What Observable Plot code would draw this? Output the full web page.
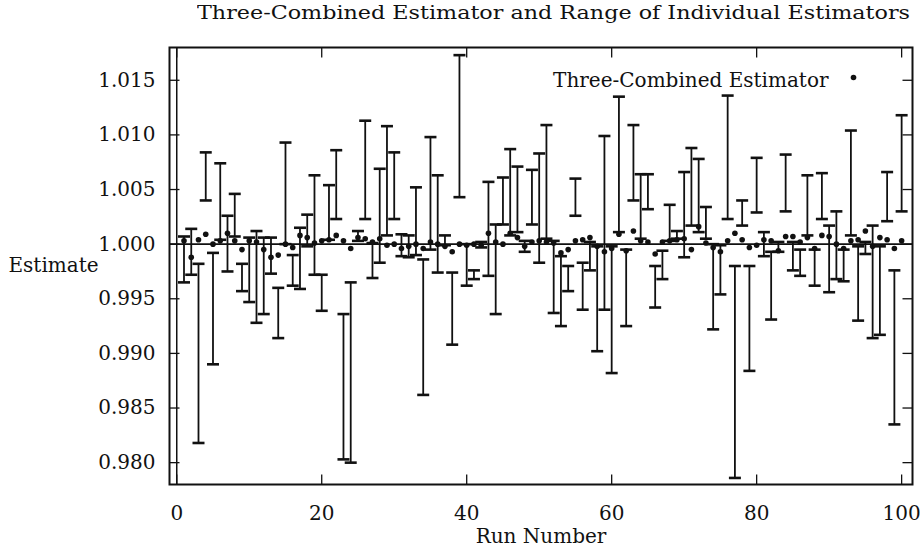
<!DOCTYPE html>
<html>
<head>
<meta charset="utf-8">
<script src="https://cdn.jsdelivr.net/npm/d3@7"></script>
<script src="https://cdn.jsdelivr.net/npm/@observablehq/plot@0.6"></script>
<style>
  html, body { margin: 0; padding: 0; background: #fff; }
  #wrap { width: 920px; height: 550px; position: relative; overflow: hidden; }
  #title {
    height: 30px; line-height: 24px; white-space: nowrap;
    font-family: "DejaVu Serif", serif; font-size: 19px; color: #111;
    padding-left: 197px;
  }
  #titleText { display: inline-block; transform-origin: 0 50%; }
  svg { display: block; }
</style>
</head>
<body>
<div id="wrap">
  <div id="title"><span id="titleText">Three-Combined Estimator and Range of Individual Estimators</span></div>
  <div id="chart"></div>
</div>
<script>
// Run numbers of the simulation study
const runNumber = [
  1, 2, 3, 4, 5, 6, 7, 8, 9, 10, 11, 12, 13, 14, 15, 16, 17, 18, 19, 20,
  21, 22, 23, 24, 25, 26, 27, 28, 29, 30, 31, 32, 33, 34, 35, 36, 37, 38, 39, 40,
  41, 42, 43, 44, 45, 46, 47, 48, 49, 50, 51, 52, 53, 54, 55, 56, 57, 58, 59, 60,
  61, 62, 63, 64, 65, 66, 67, 68, 69, 70, 71, 72, 73, 74, 75, 76, 77, 78, 79, 80,
  81, 82, 83, 84, 85, 86, 87, 88, 89, 90, 91, 92, 93, 94, 95, 96, 97, 98, 99, 100
];

// Three-combined estimator for each run
const combined = [
  1.0003, 0.9988, 1.0004, 1.0009, 1.0000, 1.0003, 1.0010, 1.0003, 0.9995, 1.0003,
  1.0002, 0.9995, 0.9988, 0.9990, 1.0000, 0.9997, 1.0008, 1.0006, 1.0001, 1.0003,
  1.0004, 1.0008, 1.0003, 0.9996, 1.0006, 1.0005, 1.0002, 1.0005, 0.9999, 1.0000,
  0.9996, 0.9998, 1.0000, 0.9996, 1.0002, 1.0000, 0.9998, 0.9993, 1.0000, 0.9999,
  1.0000, 0.9999, 1.0010, 1.0002, 1.0000, 1.0010, 1.0006, 0.9998, 1.0002, 1.0003,
  1.0002, 1.0001, 0.9992, 0.9995, 1.0003, 1.0004, 1.0006, 0.9998, 0.9993, 0.9996,
  1.0009, 0.9994, 1.0012, 1.0003, 1.0002, 0.9991, 1.0002, 1.0003, 1.0004, 1.0005,
  0.9995, 1.0016, 1.0001, 0.9997, 0.9993, 1.0003, 1.0010, 1.0004, 0.9997, 0.9999,
  1.0004, 1.0003, 0.9994, 1.0007, 1.0007, 1.0002, 1.0006, 0.9996, 1.0008, 1.0007,
  1.0000, 0.9996, 1.0003, 1.0004, 1.0012, 0.9998, 1.0006, 1.0004, 0.9996, 1.0003
];

// Smallest of the individual estimators for each run
const rangeLow = [
  0.9965, 0.9972, 0.9818, 1.0040, 0.9890, 1.0004, 0.9975, 1.0007, 0.9957, 0.9947,
  0.9928, 0.9936, 0.9973, 0.9914, 1.0000, 0.9962, 0.9959, 0.9998, 0.9972, 0.9939,
  1.0004, 1.0023, 0.9803, 0.9800, 1.0003, 1.0023, 0.9969, 0.9983, 1.0008, 1.0023,
  0.9989, 0.9988, 0.9990, 0.9862, 0.9995, 0.9974, 0.9999, 0.9908, 1.0043, 0.9962,
  0.9968, 0.9997, 0.9971, 0.9936, 1.0018, 1.0008, 1.0011, 0.9993, 1.0018, 0.9983,
  1.0005, 0.9937, 0.9925, 0.9957, 1.0026, 0.9940, 0.9976, 0.9902, 0.9940, 0.9882,
  1.0011, 0.9925, 1.0040, 1.0005, 1.0032, 0.9942, 0.9968, 1.0003, 1.0005, 0.9988,
  1.0017, 1.0011, 1.0005, 0.9922, 0.9954, 1.0023, 0.9786, 1.0017, 0.9884, 1.0029,
  0.9989, 0.9931, 0.9993, 1.0030, 0.9976, 0.9971, 1.0008, 0.9962, 1.0023, 0.9956,
  0.9968, 0.9966, 1.0008, 0.9930, 0.9991, 0.9914, 0.9917, 1.0021, 0.9835, 1.0030
];

// Largest of the individual estimators for each run
const rangeHigh = [
  1.0007, 1.0014, 0.9982, 1.0084, 0.9992, 1.0074, 1.0026, 1.0046, 0.9982, 1.0006,
  1.0012, 1.0006, 1.0006, 0.9960, 1.0093, 0.9990, 1.0015, 1.0027, 1.0063, 0.9972,
  1.0054, 1.0086, 0.9936, 0.9965, 1.0012, 1.0113, 1.0001, 1.0069, 1.0108, 1.0084,
  1.0009, 1.0008, 1.0052, 0.9986, 1.0098, 1.0063, 1.0008, 0.9974, 1.0173, 1.0000,
  0.9976, 1.0002, 1.0057, 1.0018, 1.0061, 1.0087, 1.0071, 1.0003, 1.0068, 1.0083,
  1.0109, 1.0003, 0.9989, 0.9980, 1.0060, 0.9983, 1.0002, 0.9998, 1.0099, 0.9998,
  1.0135, 0.9995, 1.0109, 1.0064, 1.0064, 0.9980, 0.9994, 1.0036, 1.0012, 1.0066,
  1.0088, 1.0078, 1.0034, 1.0000, 0.9999, 1.0136, 0.9980, 1.0040, 0.9980, 1.0079,
  1.0011, 0.9993, 1.0002, 1.0082, 1.0002, 0.9995, 1.0063, 0.9995, 1.0065, 1.0017,
  1.0030, 0.9995, 1.0104, 0.9998, 1.0002, 1.0017, 0.9998, 1.0066, 0.9976, 1.0118
];

const yTicks = [0.980, 0.985, 0.990, 0.995, 1.000, 1.005, 1.010, 1.015];
const xTicks = [0, 20, 40, 60, 80, 100];
const legendLabel = "Three-Combined Estimator";
const xLabel = "Run Number";
const yLabel = "Estimate";

const rows = runNumber.map((run, i) => ({
  run, est: combined[i], low: rangeLow[i], high: rangeHigh[i]
}));

// Short horizontal stroke used for the whisker caps
const capSymbol = { draw(ctx) { ctx.moveTo(-6, 0); ctx.lineTo(6, 0); } };
// Inward-pointing tick marks on the four borders
const tickLeft = { draw(ctx) { ctx.moveTo(0, 0); ctx.lineTo(10, 0); } };
const tickRight = { draw(ctx) { ctx.moveTo(-10, 0); ctx.lineTo(0, 0); } };
const tickBottom = { draw(ctx) { ctx.moveTo(0, 0); ctx.lineTo(0, -10); } };
const tickTop = { draw(ctx) { ctx.moveTo(0, 0); ctx.lineTo(0, 10); } };

const chart = Plot.plot({
  width: 920,
  height: 520,
  marginTop: 17,
  marginBottom: 66,
  marginLeft: 169,
  marginRight: 8,
  style: { fontFamily: "DejaVu Serif, serif", fontSize: "20px", color: "#111", background: "#fff" },
  x: { domain: [-1, 101.5] },
  y: { domain: [0.978, 1.018] },
  marks: [
    Plot.ruleY([1.000], { stroke: "#111", strokeWidth: 1.6 }),
    Plot.ruleX([0], { stroke: "#111", strokeWidth: 1.5 }),
    Plot.ruleX(rows, { x: "run", y1: "low", y2: "high", stroke: "#111", strokeWidth: 1.8 }),
    Plot.dot(rows, { x: "run", y: "low", symbol: capSymbol, fill: "none", stroke: "#111", strokeWidth: 2.6 }),
    Plot.dot(rows, { x: "run", y: "high", symbol: capSymbol, fill: "none", stroke: "#111", strokeWidth: 2.6 }),
    Plot.dot(rows, { x: "run", y: "est", r: 2.8, fill: "#111", stroke: "none" }),
    Plot.dot(yTicks, { y: d => d, frameAnchor: "left", symbol: tickLeft, fill: "none", stroke: "#111", strokeWidth: 1.3 }),
    Plot.dot(yTicks, { y: d => d, frameAnchor: "right", symbol: tickRight, fill: "none", stroke: "#111", strokeWidth: 1.3 }),
    Plot.dot(xTicks, { x: d => d, frameAnchor: "bottom", symbol: tickBottom, fill: "none", stroke: "#111", strokeWidth: 1.3 }),
    Plot.dot(xTicks, { x: d => d, frameAnchor: "top", symbol: tickTop, fill: "none", stroke: "#111", strokeWidth: 1.3 }),
    Plot.axisY({ ticks: yTicks, tickFormat: d3.format(".3f"), tickSize: 0, tickPadding: 14, label: null }),
    Plot.axisX({ ticks: xTicks, tickFormat: d3.format("d"), tickSize: 0, tickPadding: 21, label: null }),
    Plot.text([yLabel], { frameAnchor: "left", dx: -161, textAnchor: "start", fill: "#111" }),
    Plot.text([xLabel], { frameAnchor: "bottom", dy: 52, lineAnchor: "middle", fill: "#111" }),
    Plot.text([legendLabel], { frameAnchor: "top-right", dx: -84, dy: 33, lineAnchor: "middle", textAnchor: "end", fill: "#111" }),
    Plot.dot([legendLabel], { frameAnchor: "top-right", dx: -59, dy: 30, r: 2.8, fill: "#111", stroke: "none" }),
    Plot.frame({ stroke: "#111", strokeWidth: 2 })
  ]
});
document.getElementById("chart").appendChild(chart);

// Stretch the title across its intended width
const t = document.getElementById("titleText");
const w = t.getBoundingClientRect().width;
t.style.transform = "scaleX(" + (713 / w) + ")";
</script>
</body>
</html>
